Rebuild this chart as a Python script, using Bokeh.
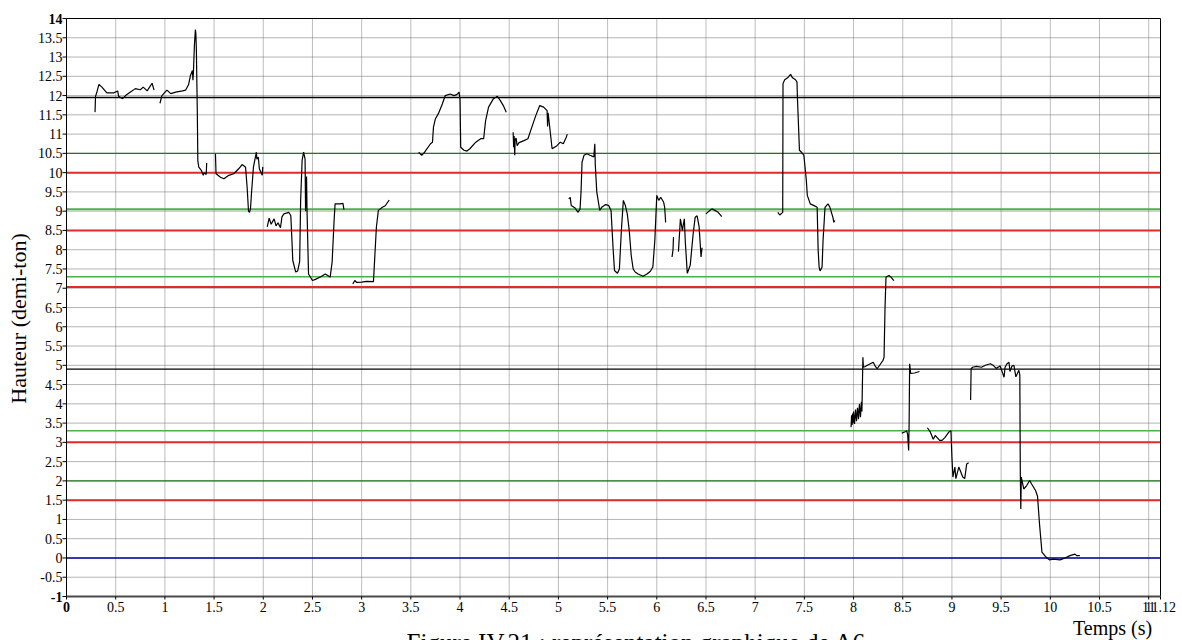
import math
from bokeh.plotting import figure
from bokeh.models import ColumnDataSource, Range1d
from bokeh.core.properties import value
from bokeh.embed import file_html
from bokeh.resources import INLINE

# ---------------- data ----------------
x_ticks = [i * 0.5 for i in range(23)] + [11.12]
y_ticks = [-1 + i * 0.5 for i in range(31)]
x_min, x_max = 0.0, 11.12
y_min, y_max = -1.0, 14.0

ref_levels = [11.95, 10.5, 10.0, 9.05, 8.5, 7.3, 7.03, 4.9, 3.3, 3.0, 2.0, 1.5, 0.0]
ref_colors = ["#000000", "#1f7a1f", "#e02b2b", "#4cb04c", "#e02b2b", "#4cb04c", "#e02b2b",
              "#000000", "#4cb04c", "#e02b2b", "#1f7a1f", "#e02b2b", "#0000a0"]
ref_widths = [1.3, 1.3, 2, 2, 2, 1.5, 2, 1.3, 1.5, 2, 1.3, 2, 1.5]

seg_t = [
    [0.29, 0.295, 0.31, 0.33, 0.36, 0.41, 0.48, 0.52, 0.53, 0.57, 0.60, 0.65, 0.70, 0.75, 0.78, 0.82, 0.87, 0.89],
    [0.95, 0.97, 1.02, 1.06, 1.11, 1.18, 1.21, 1.24, 1.26, 1.28, 1.285, 1.29, 1.30, 1.31, 1.315, 1.32, 1.33,
     1.335, 1.345, 1.37, 1.39, 1.40, 1.42, 1.425],
    [1.514, 1.52, 1.53, 1.565, 1.60, 1.65, 1.70, 1.75, 1.785, 1.82, 1.836, 1.85, 1.86, 1.87, 1.88, 1.90,
     1.93, 1.935, 1.95, 1.96, 1.99, 1.995],
    [2.04, 2.06, 2.08, 2.11, 2.13, 2.15, 2.175, 2.19, 2.21, 2.26, 2.28, 2.29, 2.30, 2.33, 2.35, 2.37, 2.38,
     2.395, 2.41, 2.425, 2.43, 2.44, 2.445, 2.46, 2.50, 2.53, 2.58, 2.63, 2.68, 2.70, 2.72, 2.73, 2.78,
     2.81, 2.82],
    [2.91, 2.93, 2.95, 3.0, 3.05, 3.12, 3.15, 3.17, 3.21, 3.24, 3.28],
    [3.58, 3.61, 3.64, 3.70, 3.72, 3.73, 3.75, 3.78, 3.82, 3.85, 3.90, 3.94, 3.97, 3.99, 4.0, 4.007, 4.04,
     4.07, 4.10, 4.16, 4.21, 4.24, 4.26, 4.29, 4.34, 4.38, 4.41, 4.44, 4.47],
    [4.54, 4.545, 4.55, 4.556, 4.56, 4.57, 4.58, 4.60, 4.65, 4.69, 4.73, 4.77, 4.81, 4.85, 4.885, 4.89,
     4.895, 4.90, 4.936, 4.985, 5.02, 5.05, 5.08, 5.09],
    [5.105, 5.12, 5.13, 5.17, 5.20, 5.22, 5.23, 5.24, 5.26, 5.29, 5.32, 5.36, 5.37, 5.375, 5.39, 5.42,
     5.44, 5.48, 5.51, 5.535, 5.555, 5.57, 5.60, 5.62, 5.64, 5.66, 5.68, 5.70, 5.72, 5.74, 5.76, 5.78,
     5.81, 5.86, 5.90, 5.935, 5.96, 5.98, 6.0, 6.02, 6.04, 6.07, 6.08, 6.09],
    [6.155, 6.165, 6.17],
    [6.22, 6.24, 6.26, 6.28, 6.29, 6.31, 6.34, 6.37, 6.39, 6.41, 6.43, 6.45, 6.46],
    [6.50, 6.53, 6.56, 6.59, 6.62, 6.66],
    [7.23, 7.25, 7.28, 7.283, 7.30, 7.33, 7.36, 7.38, 7.41, 7.425, 7.43, 7.45, 7.47, 7.495, 7.52, 7.53,
     7.56, 7.61, 7.63, 7.64, 7.65, 7.66, 7.68, 7.69, 7.71, 7.74, 7.76, 7.79, 7.80, 7.81],
    [7.975, 7.98, 7.985, 7.99, 7.995, 8.0, 8.01, 8.02, 8.03, 8.04, 8.05, 8.06, 8.07, 8.08, 8.085, 8.095,
     8.10, 8.12, 8.14, 8.17, 8.20, 8.22, 8.24, 8.27, 8.30, 8.31, 8.32, 8.33, 8.36, 8.38, 8.41],
    [8.49, 8.52, 8.54, 8.55, 8.56, 8.565, 8.57, 8.58, 8.62, 8.67],
    [8.75, 8.78, 8.81, 8.83, 8.875, 8.90, 8.93, 8.97, 8.99, 9.0, 9.01, 9.03, 9.04, 9.07, 9.11, 9.13, 9.15, 9.17],
    [9.19, 9.195, 9.21, 9.25, 9.30, 9.34, 9.39, 9.42, 9.45, 9.49, 9.53, 9.54, 9.56, 9.58, 9.59, 9.61, 9.63,
     9.65, 9.68, 9.69, 9.695, 9.70, 9.705, 9.73, 9.76, 9.79, 9.81, 9.85, 9.87, 9.89, 9.915, 9.95, 9.99,
     10.03, 10.10, 10.15, 10.20, 10.25, 10.27, 10.30],
]
seg_h = [
    [11.57, 11.98, 12.1, 12.29, 12.22, 12.07, 12.07, 12.12, 11.98, 11.92, 12.0, 12.09, 12.18, 12.15, 12.22, 12.12, 12.32, 12.14],
    [11.80, 12.0, 12.14, 12.05, 12.09, 12.12, 12.14, 12.28, 12.52, 12.65, 12.4, 12.6, 13.3, 13.71, 13.6, 13.2, 11.5,
     10.3, 10.14, 10.06, 9.93, 10.0, 9.95, 10.25],
    [10.49, 9.97, 9.95, 9.88, 9.84, 9.93, 9.97, 10.1, 10.21, 10.14, 9.62, 9.0, 8.97, 9.06, 9.45, 10.14,
     10.53, 10.35, 10.4, 10.1, 9.93, 10.15],
    [8.59, 8.82, 8.66, 8.8, 8.62, 8.7, 8.57, 8.85, 8.93, 8.97, 8.88, 8.33, 7.72, 7.42, 7.45, 7.7, 9.28,
     10.32, 10.53, 10.35, 9.0, 9.9, 9.0, 7.37, 7.2, 7.23, 7.29, 7.37, 7.29, 7.68, 8.76, 9.19, 9.19,
     9.2, 9.04],
    [7.11, 7.2, 7.15, 7.16, 7.18, 7.17, 8.59, 9.02, 9.1, 9.14, 9.29],
    [10.53, 10.45, 10.53, 10.75, 10.79, 11.18, 11.4, 11.53, 11.78, 12.0, 12.04, 12.0, 12.03, 12.09, 11.9, 10.66, 10.58,
     10.56, 10.62, 10.79, 10.88, 10.88, 11.35, 11.70, 11.92, 11.98, 11.87, 11.74, 11.57],
    [11.05, 10.66, 10.95, 10.45, 10.85, 10.9, 10.7, 10.78, 10.83, 10.88, 11.18, 11.48, 11.74, 11.7, 11.61, 11.2,
     11.55, 11.45, 10.62, 10.7, 10.79, 10.75, 10.92, 11.0],
    [9.32, 9.36, 9.15, 9.08, 8.97, 9.06, 9.5, 10.27, 10.45, 10.49, 10.45, 10.41, 10.75, 10.2, 9.5, 9.02,
     9.1, 9.17, 9.15, 9.02, 8.07, 7.46, 7.39, 7.5, 8.5, 9.28, 9.15, 8.93, 8.5, 7.85, 7.5, 7.42,
     7.37, 7.31, 7.37, 7.44, 7.55, 8.24, 9.41, 9.28, 9.36, 9.23, 9.1, 8.71],
    [7.81, 8.0, 8.33],
    [7.95, 8.80, 8.5, 8.8, 8.2, 7.39, 7.6, 8.42, 8.84, 8.88, 8.6, 7.81, 8.05],
    [8.93, 9.0, 9.06, 9.02, 8.98, 8.86],
    [8.97, 8.9, 8.97, 12.31, 12.41, 12.46, 12.55, 12.46, 12.41, 12.35, 11.92, 10.58, 10.53, 10.45, 9.8, 9.41,
     9.19, 9.13, 9.1, 8.0, 7.55, 7.45, 7.55, 8.24, 9.1, 9.19, 9.1, 8.84, 8.71, 8.76],
    [3.39, 3.7, 3.45, 3.75, 3.5, 3.8, 3.48, 3.85, 3.55, 3.9, 3.6, 4.0, 3.65, 4.05, 3.8, 5.21,
     4.95, 4.97, 5.0, 5.04, 5.08, 4.98, 4.91, 5.02, 5.13, 5.21, 6.51, 7.29, 7.33, 7.29, 7.2],
    [3.24, 3.27, 3.3, 3.2, 2.79, 3.5, 5.04, 4.79, 4.8, 4.84],
    [3.38, 3.27, 3.08, 3.18, 3.05, 3.05, 3.13, 3.27, 3.3, 2.6, 2.1, 2.36, 2.06, 2.36, 2.1, 2.06, 2.44, 2.47],
    [4.1, 4.91, 4.95, 4.97, 4.95, 5.0, 5.04, 5.0, 4.92, 4.98, 4.69, 4.95, 5.04, 5.08, 4.84, 4.98, 5.0,
     4.7, 4.87, 4.75, 2.18, 1.27, 2.1, 1.79, 1.88, 2.01, 1.92, 1.75, 1.6, 0.89, 0.15, 0.04, -0.05,
     -0.03, -0.05, 0.0, 0.06, 0.1, 0.06, 0.06],
]

x_label = "Temps (s)"
y_label = "Hauteur (demi-ton)"
caption = "Figure IV.21 : représentation graphique de A6"
bold_x_ticks = [0.0]
bold_y_ticks = [14.0, -1.0]

# ---------------- geometry (pixels) ----------------
W, H = 1180, 640
FL, FR, FT, FB = 66, 1160, 18, 596          # plot box in canvas pixels
SX = (FR - FL) / (x_max - x_min)
SY = (FB - FT) / (y_max - y_min)
FONT = value("Liberation Serif")

p = figure(width=W, height=H,
           x_range=Range1d(x_min - FL / SX, x_max + (W - FR) / SX),
           y_range=Range1d(y_min - (H - FB) / SY, y_max + FT / SY),
           x_axis_location=None, y_axis_location=None,
           output_backend="svg", toolbar_location=None,
           min_border_left=0, min_border_right=0, min_border_top=0, min_border_bottom=0)
p.outline_line_color = None
p.background_fill_color = "white"
p.border_fill_color = "white"
p.grid.visible = False

# grid (dotted gray)
vx = [t for t in x_ticks if x_min < t < x_max]
p.segment(x0=vx, y0=[y_min] * len(vx), x1=vx, y1=[y_max] * len(vx),
          line_color="#7a7a7a", line_width=1, line_dash="1 1")
hy = [v for v in y_ticks if y_min < v < y_max]
p.segment(x0=[x_min] * len(hy), y0=hy, x1=[x_max] * len(hy), y1=hy,
          line_color="#6a6a6a", line_width=1, line_dash="1 1")

# reference levels
ref_src = ColumnDataSource(dict(x0=[x_min] * len(ref_levels), x1=[x_max] * len(ref_levels),
                                y=ref_levels, c=ref_colors, w=ref_widths))
p.segment(x0="x0", y0="y", x1="x1", y1="y", line_color="c", line_width="w", source=ref_src)

# frame
p.segment(x0=[x_min, x_min, x_max], y0=[y_min, y_max, y_min],
          x1=[x_min, x_max, x_max], y1=[y_max, y_max, y_max],
          line_color="black", line_width=1)
p.segment(x0=[x_min], y0=[y_min], x1=[x_max], y1=[y_min], line_color="#4a4a4a", line_width=2)

# ticks
p.segment(x0=[x_min] * len(y_ticks), y0=y_ticks, x1=[x_min - 4 / SX] * len(y_ticks), y1=y_ticks,
          line_color="black", line_width=1)
p.segment(x0=x_ticks, y0=[y_min] * len(x_ticks), x1=x_ticks, y1=[y_min - 3 / SY] * len(x_ticks),
          line_color="black", line_width=1)

# trace
src = ColumnDataSource(dict(xs=seg_t, ys=seg_h))
p.multi_line(xs="xs", ys="ys", source=src, line_color="black", line_width=1.2)

# tick labels
def fmt(v):
    return "%g" % v

ny = [v for v in y_ticks if v not in bold_y_ticks]
p.text(x=[x_min - 4 / SX] * len(ny), y=ny, text=[fmt(v) for v in ny], text_font=FONT,
       text_font_size=value("14px"), text_align="right", text_baseline="middle", text_color="black")
p.text(x=[x_min - 4 / SX] * len(bold_y_ticks), y=bold_y_ticks, text=[fmt(v) for v in bold_y_ticks],
       text_font=FONT, text_font_size=value("14px"), text_font_style="bold",
       text_align="right", text_baseline="middle", text_color="black")
nx = [t for t in x_ticks if t not in bold_x_ticks]
p.text(x=nx, y=[y_min - 5 / SY] * len(nx), text=[fmt(t) for t in nx], text_font=FONT,
       text_font_size=value("14px"), text_align="center", text_baseline="top", text_color="black")
p.text(x=bold_x_ticks, y=[y_min - 5 / SY] * len(bold_x_ticks), text=[fmt(t) for t in bold_x_ticks],
       text_font=FONT, text_font_size=value("14px"), text_font_style="bold",
       text_align="center", text_baseline="top", text_color="black")

# axis titles and caption
p.text(x=[x_min - 48 / SX], y=[y_min + (FB - 318) / SY], text=[y_label], angle=math.pi / 2,
       text_font=FONT, text_font_size=value("22px"), text_align="center", text_baseline="middle",
       text_color="black")
p.text(x=[x_min + (1112 - FL) / SX], y=[y_min - 31 / SY], text=[x_label],
       text_font=FONT, text_font_size=value("20px"), text_align="center", text_baseline="alphabetic",
       text_color="black")
p.text(x=[x_min + (636 - FL) / SX], y=[y_min - 46 / SY], text=[caption],
       text_font=FONT, text_font_size=value("25px"), text_align="center", text_baseline="alphabetic",
       text_color="black")

open("out.html", "w").write(file_html(p, INLINE))
